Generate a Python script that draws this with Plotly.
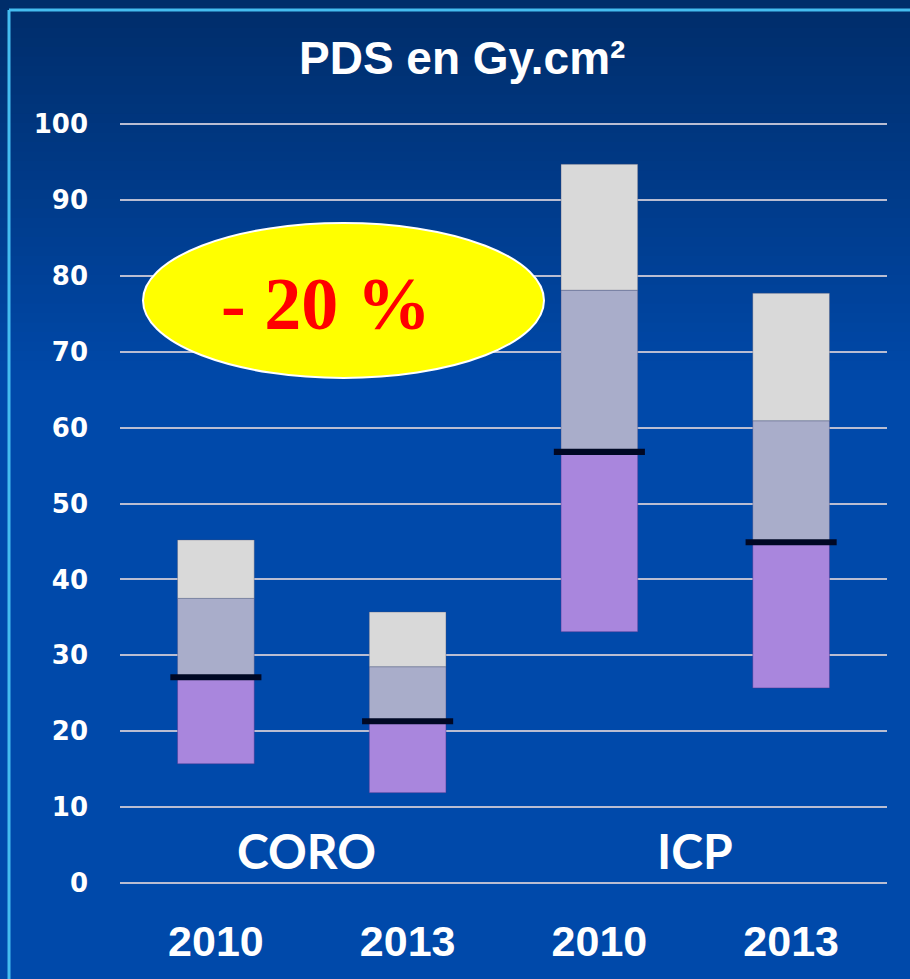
import plotly.graph_objects as go

# ---- data ----
group_labels = ["CORO", "ICP"]
years = ["2010", "2013", "2010", "2013"]
pds_min = [15.7, 11.9, 33.1, 25.7]
pds_median = [27.1, 21.3, 56.8, 44.9]
pds_q3 = [37.5, 28.5, 78.1, 60.9]
pds_max = [45.2, 35.7, 94.7, 77.7]
y_ticks = list(range(0, 101, 10))
chart_title = "PDS en Gy.cm²"
reduction_label = "- 20 %"

W, H = 910, 979
xs = list(range(len(years)))

def px(x):
    return x / W

def py(y):
    return 1 - y / H

fig = go.Figure()

# floating stacked segments
fig.add_trace(go.Bar(
    x=xs, y=[m - a for m, a in zip(pds_median, pds_min)], base=pds_min,
    width=0.4, marker=dict(color="#a986dd", line=dict(color="rgba(70,50,140,0.45)", width=1)),
    hoverinfo="skip"))
fig.add_trace(go.Bar(
    x=xs, y=[q - m for q, m in zip(pds_q3, pds_median)], base=pds_median,
    width=0.4, marker=dict(color="#a9adca", line=dict(color="rgba(70,70,120,0.35)", width=1)),
    hoverinfo="skip"))
fig.add_trace(go.Bar(
    x=xs, y=[mx - q for mx, q in zip(pds_max, pds_q3)], base=pds_q3,
    width=0.4, marker=dict(color="#d9d9d9", line=dict(color="rgba(80,80,110,0.35)", width=1)),
    hoverinfo="skip"))
# median markers
med_thick = 0.8
fig.add_trace(go.Bar(
    x=xs, y=[med_thick] * len(xs), base=[m - med_thick / 2 for m in pds_median],
    width=0.475, marker=dict(color="#000824", line=dict(width=0)),
    hoverinfo="skip"))

# background gradient
shapes = []
top_col = (0x00, 0x2d, 0x6a)
bot_col = (0x00, 0x48, 0xa8)
steps = 40
grad_end = 380
for i in range(steps):
    t = i / (steps - 1)
    c = tuple(int(round(top_col[k] + (bot_col[k] - top_col[k]) * t)) for k in range(3))
    y0 = grad_end * i / steps - 0.5
    y1 = grad_end * (i + 1) / steps + 0.5
    shapes.append(dict(type="rect", xref="paper", yref="paper", x0=0, x1=1,
                       y0=py(y1), y1=min(1.0, py(y0)), fillcolor="rgb(%d,%d,%d)" % c,
                       line=dict(width=0), layer="below"))
shapes.append(dict(type="rect", xref="paper", yref="paper", x0=0, x1=1,
                   y0=0, y1=py(grad_end), fillcolor="rgb(0,73,170)",
                   line=dict(width=0), layer="below"))
# frame lines
shapes.append(dict(type="line", xref="paper", yref="paper", x0=px(9), x1=1,
                   y0=py(10), y1=py(10), line=dict(color="#45bdf0", width=3), layer="above"))
shapes.append(dict(type="line", xref="paper", yref="paper", x0=px(9), x1=px(9),
                   y0=0, y1=py(10), line=dict(color="#45bdf0", width=3), layer="above"))
# yellow ellipse
shapes.append(dict(type="circle", xref="paper", yref="paper", x0=px(143), x1=px(544),
                   y0=py(378), y1=py(223), fillcolor="#ffff00",
                   line=dict(color="white", width=2), layer="above"))

annotations = [
    dict(text=chart_title, xref="paper", yref="paper", x=px(462), y=py(58),
         showarrow=False, xanchor="center", yanchor="middle",
         font=dict(family="Liberation Sans", size=46, color="white", weight="bold")),
    dict(text=reduction_label, xref="paper", yref="paper", x=px(326), y=py(304),
         showarrow=False, xanchor="center", yanchor="middle",
         font=dict(family="Liberation Serif", size=74, color="#ff0000", weight="bold")),
    dict(text=group_labels[0], xref="x", yref="paper", x=0.47, y=py(850),
         showarrow=False, xanchor="center", yanchor="middle",
         font=dict(family="Lato", size=48, color="white", weight="bold")),
    dict(text=group_labels[1], xref="x", yref="paper", x=2.5, y=py(850),
         showarrow=False, xanchor="center", yanchor="middle",
         font=dict(family="Lato", size=48, color="white", weight="bold")),
]

y_lo, y_hi = -1, 101
ppu = (883 - 124) / 100.0
dom_bottom = py(883 + ppu * (0 - y_lo))
dom_top = py(124 - ppu * (y_hi - 100))

fig.update_layout(
    width=W, height=H, autosize=False,
    margin=dict(l=0, r=0, t=0, b=0, pad=0),
    paper_bgcolor="#0049aa", plot_bgcolor="rgba(0,0,0,0)",
    barmode="overlay", showlegend=False,
    shapes=shapes, annotations=annotations,
    xaxis=dict(domain=[px(120), px(887)], range=[-0.5, len(xs) - 0.5],
               tickmode="array", tickvals=xs, ticktext=years,
               showgrid=False, zeroline=False, showline=False, ticks="",
               tickfont=dict(family="Liberation Sans", size=43, color="white", weight="bold"),
               ticklabelstandoff=21, automargin=False, fixedrange=True),
    yaxis=dict(domain=[dom_bottom, dom_top], range=[y_lo, y_hi],
               tickmode="array", tickvals=y_ticks, ticktext=[str(v) for v in y_ticks],
               showgrid=True, gridcolor="#b9bdd2", gridwidth=1.5,
               zeroline=False, showline=False, ticks="",
               tickfont=dict(family="DejaVu Sans", size=26, color="white", weight="bold"),
               ticklabelstandoff=31, automargin=False, fixedrange=True),
)

fig.write_html(
    "out.html",
    config={"displayModeBar": False},
    post_script="document.body.style.margin='0';document.body.style.overflow='hidden';",
)
